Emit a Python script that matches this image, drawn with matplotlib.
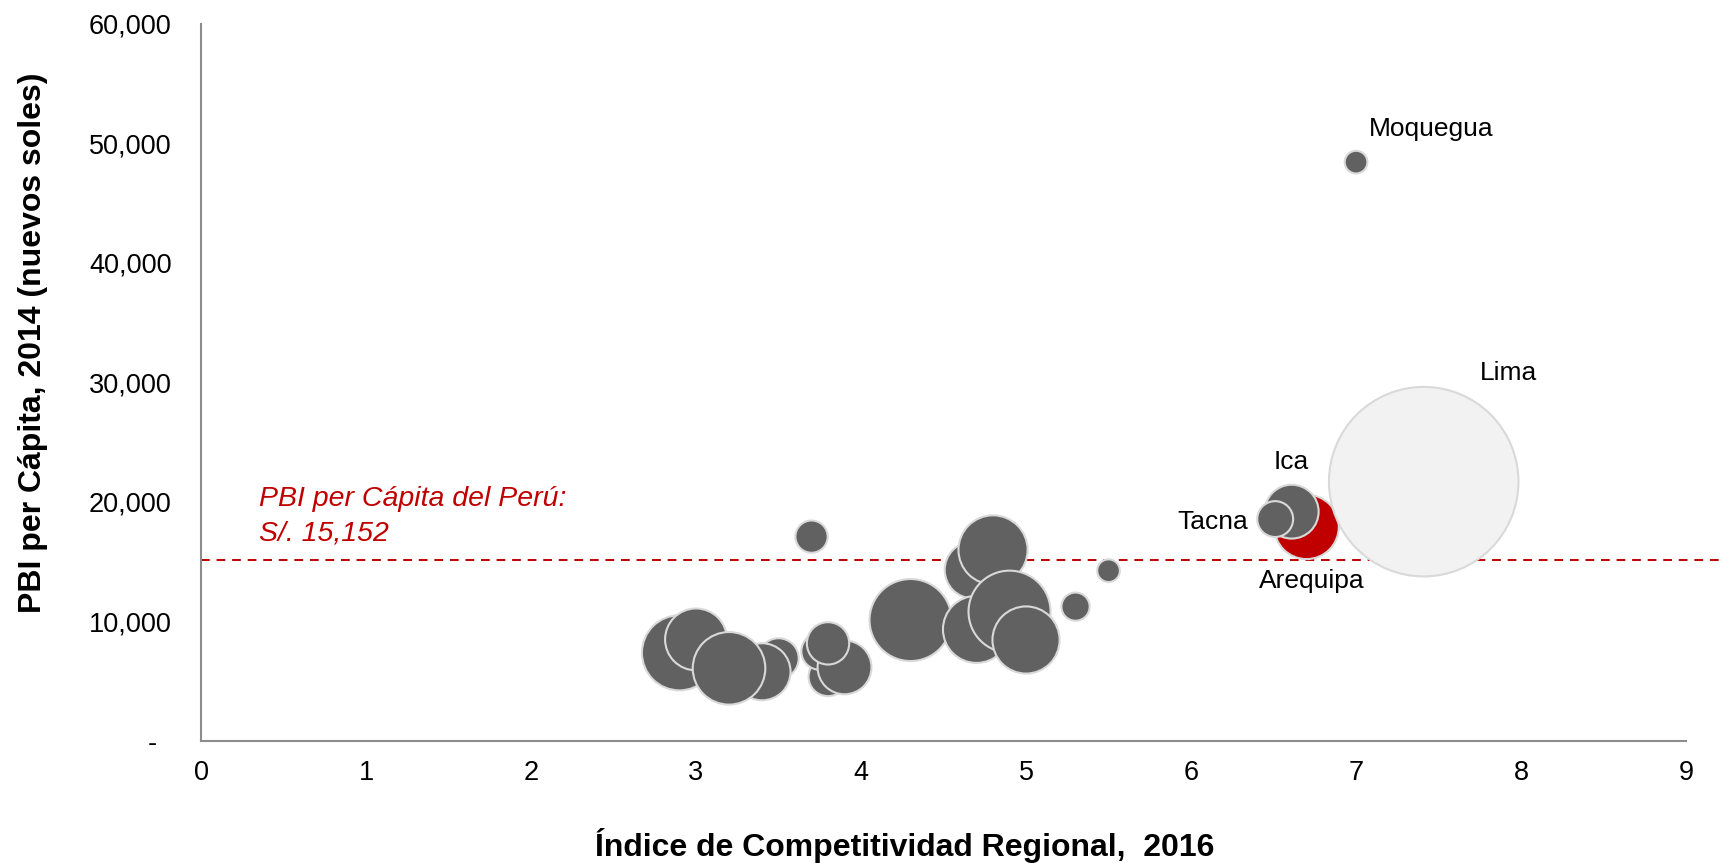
import numpy as np
import matplotlib.pyplot as plt
from matplotlib.ticker import FuncFormatter

plt.rcParams['font.family'] = ['Liberation Sans', 'DejaVu Sans']

# Regional competitiveness index 2016 vs GDP per capita 2014, bubble = population (thousands)
indice = [3.50, 3.40, 2.90, 3.00, 3.20, 3.80, 3.75, 3.90, 3.80, 3.70,
          4.30, 4.68, 4.80, 4.70, 4.90, 5.00, 5.30, 5.50,
          7.00, 6.70, 6.61, 6.51, 7.41]
pbi = [6910, 5790, 7380, 8500, 6080, 5380, 7500, 6160, 8170, 17100,
       10120, 14310, 15990, 9340, 10820, 8450, 11240, 14250,
       48440, 17920, 19190, 18570, 21700]
poblacion = [444, 888, 1543, 1045, 1437, 413, 371, 791, 489, 284,
             1837, 888, 1305, 1230, 1837, 1230, 217, 140,
             140, 1136, 791, 351, 9800]
region = [''] * 18 + ['Moquegua', 'Arequipa', 'Ica', 'Tacna', 'Lima']

pbi_peru = 15152

GREY = '#616161'
RED = '#c00000'
EDGE = '#d9d9d9'

colors = []
for r in region:
    if r == 'Lima':
        colors.append('#f2f2f2')
    elif r == 'Arequipa':
        colors.append(RED)
    else:
        colors.append(GREY)

fig = plt.figure(figsize=(17.21, 8.63), dpi=100)
ax = fig.add_axes([0.1168, 0.1414, 0.8629, 0.8308])

sizes = np.array(poblacion) * 1.9
ax.scatter(indice, pbi, s=sizes, c=colors, edgecolors=EDGE, linewidths=1.5, zorder=3)

# national average line (runs a little past the axis end)
ax.plot([0, 9.22], [pbi_peru, pbi_peru], color=RED, lw=1.4, ls=(0, (4.5, 3.5)),
        clip_on=False, zorder=2)
ax.annotate('PBI per Cápita del Perú:\nS/. 15,152', xy=(0.35, pbi_peru),
            xytext=(0, 10), textcoords='offset points', ha='left', va='bottom',
            color=RED, fontsize=20.5, style='italic', linespacing=1.38)

# region labels
offsets = {'Moquegua': (54, 24), 'Lima': (61, 78), 'Ica': (0, 36),
           'Tacna': (-45, -2), 'Arequipa': (4, -39)}
for xi, yi, r in zip(indice, pbi, region):
    if r in offsets:
        ax.annotate(r, xy=(xi, yi), xytext=offsets[r], textcoords='offset points',
                    ha='center', va='center', fontsize=19, color='black', zorder=5)

ax.set_xlim(0, 9)
ax.set_ylim(0, 60000)
ax.set_xticks(range(0, 10))
ax.set_yticks(range(0, 60001, 10000))
ax.yaxis.set_major_formatter(FuncFormatter(lambda v, p: '-  ' if v == 0 else f'{int(v):,}'))

for s in ['top', 'right']:
    ax.spines[s].set_visible(False)
for s in ['left', 'bottom']:
    ax.spines[s].set_color('#8c8c8c')
    ax.spines[s].set_linewidth(1.5)
ax.tick_params(length=0, labelsize=19.5, pad=14)
ax.tick_params(axis='y', pad=21)

ax.set_xlabel('Índice de Competitividad Regional,  2016', fontsize=23,
              fontweight='bold')
ax.set_ylabel('PBI per Cápita, 2014 (nuevos soles)', fontsize=23,
              fontweight='bold')
ax.xaxis.set_label_coords(0.474, -0.1455)
ax.yaxis.set_label_coords(-0.113, 0.556)
ax.xaxis.label.set_va('center')
ax.yaxis.label.set_va('center')

fig.savefig('out.png', dpi=100)
